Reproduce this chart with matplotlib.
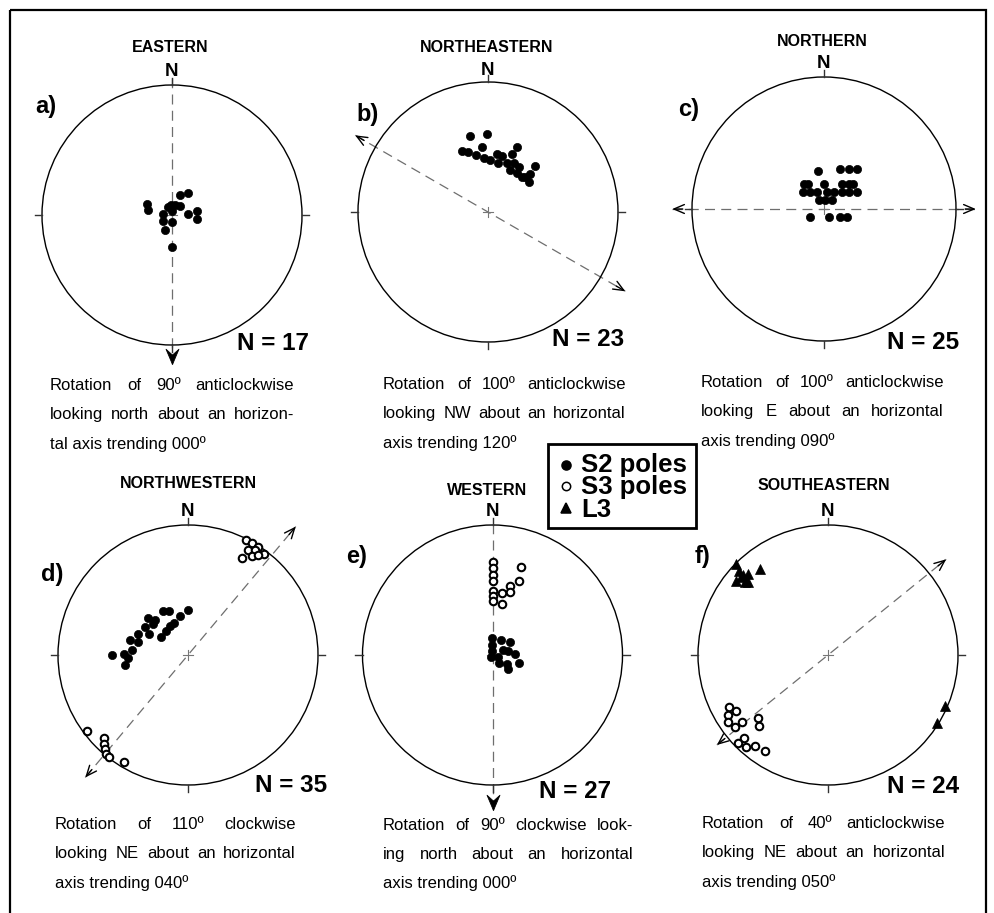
import matplotlib
matplotlib.use("Agg")
import matplotlib.pyplot as plt
from matplotlib.patches import Circle, Rectangle
from matplotlib.path import Path
import numpy as np

plt.rcParams['font.family'] = ['Liberation Sans', 'DejaVu Sans']

W, H, DPI = 995, 913, 100

# ---------------------------------------------------------------------------
# Pole / lineation positions on a unit-radius equal-area net (x = east, y = north)
# ---------------------------------------------------------------------------
a_s2_x = [-0.195, -0.187, 0.062, 0.123, -0.010, 0.021, 0.062, 0.000, -0.067,
          0.123, 0.190, 0.190, -0.067, 0.000, -0.056, 0.000, -0.027]
a_s2_y = [0.085, 0.038, 0.154, 0.167, 0.077, 0.079, 0.069, 0.033, 0.008,
          0.005, 0.033, -0.028, -0.044, -0.056, -0.115, -0.244, 0.062]

b_s2_x = [-0.138, -0.010, -0.202, -0.152, -0.092, -0.048, -0.031, 0.015, 0.067,
          0.110, 0.075, 0.148, 0.187, 0.221, 0.200, 0.169, 0.241, 0.221, 0.259,
          0.323, 0.362, 0.315, 0.285]
b_s2_y = [0.585, 0.600, 0.469, 0.459, 0.438, 0.498, 0.413, 0.400, 0.446,
          0.431, 0.379, 0.379, 0.444, 0.502, 0.375, 0.323, 0.348, 0.298, 0.272,
          0.292, 0.354, 0.233, 0.267]

c_s2_x = [-0.045, 0.125, 0.189, 0.248, -0.152, -0.119, 0.002, 0.134, 0.187,
          0.217, -0.157, -0.106, -0.055, 0.020, 0.078, 0.134, 0.191, 0.248,
          -0.039, 0.009, 0.062, -0.108, 0.039, 0.121, 0.172]
c_s2_y = [0.288, 0.303, 0.303, 0.303, 0.193, 0.193, 0.193, 0.193, 0.193,
          0.193, 0.127, 0.127, 0.127, 0.127, 0.127, 0.127, 0.127, 0.127,
          0.068, 0.068, 0.068, -0.064, -0.064, -0.064, -0.064]

d_s2_x = [-0.587, -0.490, -0.462, -0.488, -0.427, -0.444, -0.382, -0.386, -0.331,
          -0.310, -0.256, -0.271, -0.298, -0.190, -0.144, -0.002, -0.064, -0.110,
          -0.138, -0.169, -0.208]
d_s2_y = [0.000, 0.008, -0.023, -0.077, 0.035, 0.115, 0.164, 0.102, 0.212,
          0.282, 0.269, 0.238, 0.160, 0.338, 0.336, 0.346, 0.298, 0.244,
          0.223, 0.183, 0.136]
d_s3_x = [0.444, 0.492, 0.542, 0.464, 0.515, 0.585, 0.419, 0.492, 0.538,
          -0.779, -0.645, -0.645, -0.641, -0.632, -0.605, -0.492]
d_s3_y = [0.885, 0.859, 0.833, 0.810, 0.810, 0.779, 0.750, 0.763, 0.769,
          -0.582, -0.641, -0.685, -0.725, -0.763, -0.782, -0.821]

e_s2_x = [-0.006, 0.065, 0.131, -0.006, -0.006, -0.008, 0.083, 0.123, 0.173,
          0.045, 0.050, 0.115, 0.200, 0.122]
e_s2_y = [0.127, 0.119, 0.100, 0.077, 0.027, -0.015, 0.038, 0.027, 0.008,
          -0.012, -0.065, -0.069, -0.062, -0.104]
e_s3_x = [0.002, 0.002, 0.002, 0.002, 0.002, 0.002, 0.002, 0.073, 0.073,
          0.131, 0.131, 0.204, 0.219]
e_s3_y = [0.712, 0.669, 0.619, 0.573, 0.496, 0.456, 0.419, 0.475, 0.392,
          0.527, 0.481, 0.573, 0.679]

f_s3_x = [-0.760, -0.709, -0.769, -0.767, -0.712, -0.658, -0.542, -0.529, -0.644,
          -0.692, -0.632, -0.562, -0.487]
f_s3_y = [-0.398, -0.428, -0.462, -0.515, -0.554, -0.513, -0.485, -0.548, -0.638,
          -0.677, -0.705, -0.700, -0.738]
f_l3_x = [-0.709, -0.686, -0.613, -0.521, -0.706, -0.638, -0.615, -0.669, -0.654,
          0.900, 0.836]
f_l3_y = [0.700, 0.650, 0.625, 0.660, 0.573, 0.558, 0.564, 0.600, 0.619,
          -0.396, -0.523]

# Rotation axes: trend of the axis (deg) and lengths of the dashed line on each side
a_axis = dict(trend=0, fwd=1.05, back=1.15, heads='south')
b_axis = dict(trend=120, fwd=1.22, back=1.18, heads='both')
c_axis = dict(trend=90, fwd=1.15, back=1.15, heads='both')
d_axis = dict(trend=40, fwd=1.29, back=1.23, heads='both')
e_axis = dict(trend=0, fwd=1.04, back=1.19, heads='south')
f_axis = dict(trend=51, fwd=1.17, back=1.10, heads='both')

titles = ["EASTERN", "NORTHEASTERN", "NORTHERN", "NORTHWESTERN", "WESTERN", "SOUTHEASTERN"]
letters = ["a)", "b)", "c)", "d)", "e)", "f)"]
counts = [17, 23, 25, 35, 27, 24]
captions = [
    ["Rotation of 90º anticlockwise", "looking north about an horizon-", "tal axis trending 000º"],
    ["Rotation of 100º anticlockwise", "looking NW about an horizontal", "axis trending 120º"],
    ["Rotation of 100º anticlockwise", "looking E about an horizontal", "axis trending 090º"],
    ["Rotation of 110º clockwise", "looking NE about an horizontal", "axis trending 040º"],
    ["Rotation of 90º clockwise look-", "ing north about an horizontal", "axis trending 000º"],
    ["Rotation of 40º anticlockwise", "looking NE about an horizontal", "axis trending 050º"],
]
key_labels = ["S2 poles", "S3 poles", "L3"]

# ---------------------------------------------------------------------------
# Layout (pixel positions of each net on the sheet)
# ---------------------------------------------------------------------------
panels = [
    dict(cx=172, cy=215, r=130, title_xy=(170, 52), n_xy=(172, 76.5), let_xy=(35, 113),
         cnt_xy=(309, 350), cap=(50, 294, 390)),
    dict(cx=488, cy=212, r=130, title_xy=(487, 52), n_xy=(488, 75), let_xy=(356, 121),
         cnt_xy=(624, 346.5), cap=(383, 626, 389)),
    dict(cx=824, cy=209, r=132, title_xy=(822, 46.5), n_xy=(824, 68.5), let_xy=(678, 116),
         cnt_xy=(959, 349), cap=(701, 944, 387)),
    dict(cx=188, cy=655, r=130, title_xy=(188, 488), n_xy=(188, 516), let_xy=(41, 581),
         cnt_xy=(327, 792.5), cap=(55, 296, 829)),
    dict(cx=492.5, cy=655, r=130, title_xy=(487.5, 495), n_xy=(492.5, 516.5), let_xy=(346, 563),
         cnt_xy=(611, 797.5), cap=(383, 633, 829.5)),
    dict(cx=828, cy=655, r=130, title_xy=(824, 490), n_xy=(827, 516.5), let_xy=(695, 563),
         cnt_xy=(959, 793), cap=(702, 945, 828)),
]

fig = plt.figure(figsize=(W / DPI, H / DPI), dpi=DPI)
fig.patch.set_facecolor('white')

# sheet-level axes in pixel units for labels, captions, frame and key
sheet = fig.add_axes([0, 0, 1, 1])
sheet.set_xlim(0, W)
sheet.set_ylim(H, 0)
sheet.axis('off')

sheet.add_patch(Rectangle((10, 10), 976, 910, fill=False, lw=1.6, ec='black'))

# downward chevron used for the N-S rotation axes
chevron = Path([(0, 0), (-0.55, 1.3), (0, 0.8), (0.55, 1.3), (0, 0)],
               [Path.MOVETO, Path.LINETO, Path.LINETO, Path.LINETO, Path.CLOSEPOLY])

DASH_COLOR = '#6e6e6e'


def draw_net(p, axis, series):
    R = p['r']
    half = 1.45
    size = 2 * half * R
    ax = fig.add_axes([(p['cx'] - half * R) / W, (H - p['cy'] - half * R) / H, size / W, size / H])
    ax.set_xlim(-half, half)
    ax.set_ylim(-half, half)
    ax.axis('off')

    ax.add_patch(Circle((0, 0), 1.0, fill=False, lw=1.0, ec='black', zorder=2))
    # cardinal ticks
    tl = 0.055
    for dx, dy in [(0, 1), (1, 0), (0, -1), (-1, 0)]:
        ax.plot([dx, dx * (1 + tl)], [dy, dy * (1 + tl)], color='#333333', lw=1.0, zorder=2)
    # centre cross
    cs = 0.04
    ax.plot([-cs, cs], [0, 0], color='#777777', lw=0.8, zorder=2)
    ax.plot([0, 0], [-cs, cs], color='#777777', lw=0.8, zorder=2)

    # rotation axis
    t = np.radians(axis['trend'])
    ux, uy = np.sin(t), np.cos(t)
    p1 = (ux * axis['fwd'], uy * axis['fwd'])
    p2 = (-ux * axis['back'], -uy * axis['back'])
    ax.plot([p2[0], p1[0]], [p2[1], p1[1]], color=DASH_COLOR, lw=0.9,
            dashes=(8, 5), zorder=1)
    if axis['heads'] == 'both':
        for tip, sgn in [(p1, 1), (p2, -1)]:
            ax.annotate('', xy=tip, xytext=(tip[0] - sgn * ux * 0.08, tip[1] - sgn * uy * 0.08),
                        arrowprops=dict(arrowstyle='->,head_length=0.75,head_width=0.32',
                                        lw=1.0, color='black', shrinkA=0, shrinkB=0))
    else:
        ax.plot([p2[0]], [p2[1]], marker=chevron, ms=22, color='black', mec='black',
                mew=0.6, zorder=3)

    for kind, xs, ys in series:
        if kind == 'S2':
            ax.plot(xs, ys, 'o', ms=5.9, mfc='black', mec='black', mew=0.5, ls='none', zorder=4)
        elif kind == 'S3':
            ax.plot(xs, ys, 'o', ms=5.4, mfc='white', mec='black', mew=1.5, ls='none', zorder=4)
        else:
            ax.plot(xs, ys, '^', ms=7.0, mfc='black', mec='black', mew=0.5, ls='none', zorder=4)
    return ax


panel_data = [
    (a_axis, [('S2', a_s2_x, a_s2_y)]),
    (b_axis, [('S2', b_s2_x, b_s2_y)]),
    (c_axis, [('S2', c_s2_x, c_s2_y)]),
    (d_axis, [('S2', d_s2_x, d_s2_y), ('S3', d_s3_x, d_s3_y)]),
    (e_axis, [('S2', e_s2_x, e_s2_y), ('S3', e_s3_x, e_s3_y)]),
    (f_axis, [('L3', f_l3_x, f_l3_y), ('S3', f_s3_x, f_s3_y)]),
]

renderer = fig.canvas.get_renderer()
CAP_SIZE = 12
LINE_STEP = 29.3


def justified_caption(lines, x0, x1, y0):
    for i, line in enumerate(lines):
        y = y0 + i * LINE_STEP
        words = line.split(' ')
        if i == len(lines) - 1 or len(words) == 1:
            sheet.text(x0, y, line, fontsize=CAP_SIZE, ha='left', va='baseline')
            continue
        objs = [sheet.text(0, y, w, fontsize=CAP_SIZE, ha='left', va='baseline') for w in words]
        widths = [o.get_window_extent(renderer).width for o in objs]
        gap = (x1 - x0 - sum(widths)) / (len(words) - 1)
        x = x0
        for o, w in zip(objs, widths):
            o.set_x(x)
            x += w + gap


for p, (axis, series), title, letter, n, cap in zip(panels, panel_data, titles, letters, counts, captions):
    draw_net(p, axis, series)
    sheet.text(*p['title_xy'], title, fontsize=11.5, fontweight='bold', ha='center', va='baseline')
    sheet.text(*p['n_xy'], 'N', fontsize=13.5, fontweight='bold', ha='center', va='baseline')
    sheet.text(*p['let_xy'], letter, fontsize=17, fontweight='bold', ha='left', va='baseline')
    sheet.text(*p['cnt_xy'], f'N = {n}', fontsize=17.5, fontweight='bold', ha='right', va='baseline')
    justified_caption(cap, p['cap'][0], p['cap'][1], p['cap'][2])

# key: symbols and one tightly spaced block of labels
sheet.add_patch(Rectangle((548, 444), 148, 84, fill=False, lw=2.0, ec='black'))
key_y = [465, 486.5, 508]
sheet.plot([566], [key_y[0]], 'o', ms=6.5, mfc='black', mec='black', mew=1.1)
sheet.plot([566], [key_y[1]], 'o', ms=6.0, mfc='white', mec='black', mew=1.1)
sheet.plot([566], [key_y[2]], '^', ms=7.0, mfc='black', mec='black', mew=1.1)
sheet.text(581, key_y[0] - 12, "\n".join(key_labels), fontsize=18.5, fontweight='bold',
           ha='left', va='top', linespacing=0.92)

fig.savefig('out.png', dpi=DPI)
